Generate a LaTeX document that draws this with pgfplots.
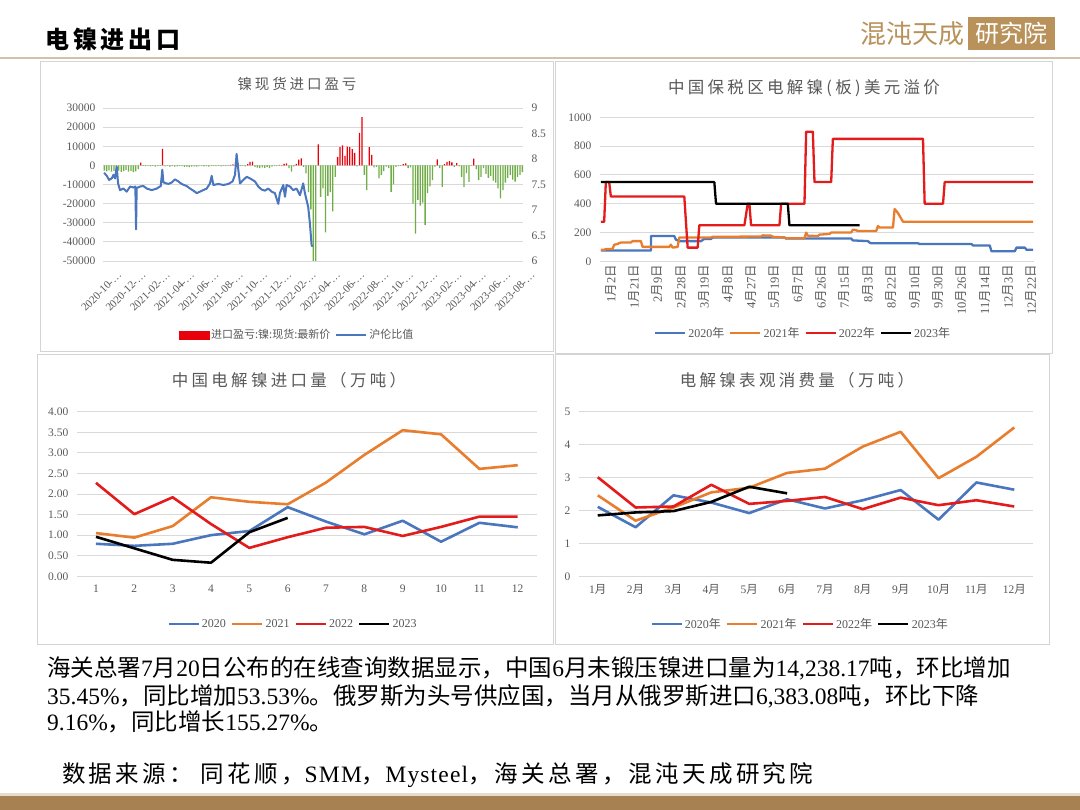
\documentclass[border=0pt]{standalone}
\usepackage{fontspec}
\usepackage{pgfplots}
\usepackage{pgfplotstable}
\pgfplotsset{compat=1.18}
\setmainfont{Liberation Serif}
\newfontfamily\cjk{Noto Sans CJK SC}
\newfontfamily\cjkt[LetterSpace=20]{Noto Sans CJK SC}
\newfontfamily\cjkh[LetterSpace=16]{Noto Sans CJK SC}
\newfontfamily\srccjk[LetterSpace=14]{Noto Sans CJK SC}
\newfontfamily\srclat[LetterSpace=5]{Liberation Serif}

\definecolor{tickgray}{HTML}{595959}
\definecolor{gridgray}{HTML}{D9D9D9}
\definecolor{panelgray}{HTML}{D4D4D4}
\definecolor{cblue}{HTML}{4A76BE}
\definecolor{corange}{HTML}{E97D2E}
\definecolor{cred}{HTML}{E31B1B}
\definecolor{barred}{HTML}{E8000B}
\definecolor{bargreen}{HTML}{70AD47}
\definecolor{tan}{HTML}{B8925A}
\definecolor{brown}{HTML}{A88152}
\definecolor{lighttan}{HTML}{E6DCCB}
\definecolor{headline}{HTML}{CFC3AE}

\newcommand\tickfont{\fontsize{11.5}{13}\selectfont}
\newcommand\legfont{\fontsize{12}{14}\selectfont}
\newcommand\md[2]{#1{\cjk 月}#2{\cjk 日}}

\pgfplotsset{
  excel/.style={
    scale only axis,
    anchor=south west,
    axis line style={draw=none},
    major tick length=0pt,
    ymajorgrids,
    scaled y ticks=false,
    grid style={draw=gridgray, line width=0.8pt},
    tick label style={font=\tickfont, text=tickgray},
    /pgf/number format/assume math mode=true,
    legend style={draw=none, fill=none, font=\legfont, text=tickgray,
      legend columns=-1, anchor=center,
      /tikz/every even column/.append style={column sep=3pt}},
    legend image code/.code={\draw (0pt,0pt) -- (30pt,0pt);},
  }
}

% daily import profit/loss, sampled on a month index (0 = 2020-10)
\pgfplotstableread{
m v
-0.4 -2800
-0.2 -3100
0.0 -2600
0.2 -3300
0.4 -2900
0.6 -3200
0.8 -2700
1.0 -3400
1.2 -3000
1.4 -2500
1.6 -3300
1.8 -2900
2.0 -3500
2.2 -3100
2.4 -2000
2.6 1400
2.8 -300
3.0 -400
3.2 -200
3.4 -500
3.6 -300
3.8 -600
4.0 -400
4.2 -300
4.4 8600
4.6 -500
4.8 -300
5.0 -600
5.2 -400
5.4 -700
5.6 -500
5.8 -300
6.0 -400
6.2 -800
6.4 -600
6.6 -900
6.8 -700
7.0 -500
7.2 -600
7.4 -400
7.6 -300
7.8 -500
8.0 -400
8.2 -600
8.4 -300
8.6 -200
8.8 -400
9.0 -300
9.2 -500
9.4 -200
9.6 -400
9.8 -300
10.0 300
10.2 500
10.4 1500
10.6 1200
10.8 -400
11.0 -300
11.2 -500
11.4 600
11.6 1800
11.8 2000
12.0 -800
12.2 -1200
12.4 -1500
12.6 -1000
12.8 -1300
13.0 -800
13.2 -1500
13.4 -600
13.6 -300
13.8 -200
14.0 300
14.2 -400
14.4 800
14.6 1000
14.8 -1500
15.0 -3300
15.2 -500
15.4 800
15.6 3000
15.8 3700
16.0 -800
16.2 -4200
16.4 -14000
16.6 -23000
16.8 -58000
17.0 -58000
17.2 11000
17.4 -16500
17.6 -12000
17.8 -35000
18.0 -16000
18.2 -14000
18.4 -24000
18.6 -6000
18.8 4500
19.0 9500
19.2 10500
19.4 5000
19.6 9800
19.8 9500
20.0 8500
20.2 6500
20.4 -500
20.6 17000
20.8 25200
21.0 -5000
21.2 -13000
21.4 9500
21.6 5500
21.8 -1000
22.0 -800
22.2 -6800
22.4 -5000
22.6 -3000
22.8 -600
23.0 -1500
23.2 -13800
23.4 -10000
23.6 -800
23.8 -400
24.0 -300
24.2 700
24.4 1000
24.6 -1500
24.8 -1000
25.0 -20000
25.2 -35700
25.4 -18000
25.6 -21000
25.8 -19500
26.0 -31300
26.2 -14500
26.4 -11000
26.6 -7700
26.8 -600
27.0 3100
27.2 -1500
27.4 -11200
27.6 700
27.8 1800
28.0 2200
28.2 1500
28.4 -800
28.6 1200
28.8 -500
29.0 -6000
29.2 -11200
29.4 -4000
29.6 -8600
29.8 -300
30.0 3500
30.2 -2000
30.4 -7700
30.6 -6000
30.8 -1500
31.0 -4500
31.2 -6500
31.4 -5500
31.6 -8000
31.8 -9000
32.0 -12000
32.2 -17300
32.4 -13000
32.6 -9000
32.8 -6500
33.0 -5000
33.2 -7500
33.4 -8500
33.6 -6000
33.8 -5000
34.0 -3500
}\tblprofit

% SHFE/LME price ratio on the same month index
\pgfplotstableread{
m r
-0.41 7.73
-0.19 7.67
0.00 7.59
0.22 7.62
0.36 7.69
0.49 7.62
0.63 7.85
0.74 7.52
0.90 7.39
1.18 7.42
1.45 7.36
1.73 7.46
2.00 7.44
2.16 7.46
2.22 6.62
2.27 7.43
2.55 7.46
2.82 7.47
3.10 7.42
3.51 7.39
3.92 7.42
4.25 7.47
4.38 7.79
4.47 7.54
4.88 7.51
5.15 7.54
5.42 7.60
5.70 7.56
5.97 7.51
6.38 7.47
6.66 7.42
6.93 7.38
7.21 7.33
7.48 7.36
7.75 7.39
8.03 7.42
8.30 7.52
8.44 7.67
8.58 7.49
8.99 7.51
9.40 7.49
9.81 7.51
10.16 7.56
10.36 7.69
10.49 8.10
10.63 7.79
10.77 7.52
11.04 7.59
11.32 7.65
11.59 7.62
12.00 7.56
12.27 7.46
12.55 7.40
12.82 7.38
13.10 7.42
13.37 7.36
13.64 7.33
13.92 7.12
14.05 7.33
14.33 7.49
14.47 7.26
14.60 7.49
14.88 7.46
15.15 7.39
15.42 7.42
15.70 7.29
15.97 7.52
16.11 7.33
16.25 7.19
16.38 7.06
16.52 6.74
16.66 6.31
16.74 6.28
}\tblratio

\begin{document}
\begin{tikzpicture}[x=1pt,y=1pt]
\useasboundingbox (0,0) rectangle (1080,810);
\fill[white] (0,0) rectangle (1080,810);

% page header
\node[anchor=west, inner sep=0pt] at (45,771) {\fontsize{24}{26}\selectfont\cjkh\bfseries 电镍进出口};
\draw[headline, line width=1.5pt] (0,752) -- (1080,752);
\node[anchor=east, inner sep=0pt, text=tan] at (965,776) {\fontsize{26}{28}\selectfont\cjk 混沌天成};
\fill[tan] (968,760) rectangle (1055,793);
\node[text=white, inner sep=0pt] at (1011.5,776.5) {\fontsize{24}{26}\selectfont\cjk 研究院};

% panel frames
\draw[panelgray, line width=1pt] (40,458) rectangle (553,748);
\draw[panelgray, line width=1pt] (555,456) rectangle (1052,748);
\draw[panelgray, line width=1pt] (37,165) rectangle (553,455);
\draw[panelgray, line width=1pt] (555,165) rectangle (1049,455);

% panel titles
\node[text=tickgray] at (297,726) {\fontsize{14.5}{16}\selectfont\cjkt 镍现货进口盈亏};
\node[text=tickgray] at (804,722) {\fontsize{16.5}{18}\selectfont\cjkt 中国保税区电解镍(板)美元溢价};
\node[text=tickgray] at (289,430) {\fontsize{16.5}{18}\selectfont\cjkt 中国电解镍进口量（万吨）};
\node[text=tickgray] at (797,430) {\fontsize{16.5}{18}\selectfont\cjkt 电解镍表观消费量（万吨）};

% ---- import profit/loss (bars) ----
\begin{axis}[excel, at={(103pt,549pt)}, width=420pt, height=153pt,
  xmin=-0.5, xmax=34.05, ymin=-50000, ymax=30000,
  ytick={-50000,-40000,...,30000},
  yticklabels={-50000,-40000,-30000,-20000,-10000,0,10000,20000,30000},
  yticklabel style={xshift=-4pt},
  xtick={0,2,...,34},
  xticklabels={2020-10-…,2020-12-…,2021-02-…,2021-04-…,2021-06-…,2021-08-…,2021-10-…,2021-12-…,2022-02-…,2022-04-…,2022-06-…,2022-08-…,2022-10-…,2022-12-…,2023-02-…,2023-04-…,2023-06-…,2023-08-…},
  xticklabel style={rotate=45, anchor=north east, inner sep=1pt, yshift=-11pt, font=\fontsize{11}{12}\selectfont},
  ybar, bar width=1.3pt]
  \addplot[ybar, bar shift=0pt, fill=barred, draw=none, restrict y to domain=0:100000] table[x=m,y=v]{\tblprofit};
  \addplot[ybar, bar shift=0pt, fill=bargreen, draw=none, restrict y to domain=-100000:0] table[x=m,y=v]{\tblprofit};
\end{axis}
% ---- SHFE/LME ratio (right axis) ----
\begin{axis}[excel, at={(103pt,549pt)}, width=420pt, height=153pt,
  xmin=-0.5, xmax=34.05, ymin=6, ymax=9,
  ymajorgrids=false,
  axis x line=none, axis y line*=right,
  ytick={6,6.5,...,9}, yticklabels={6,6.5,7,7.5,8,8.5,9},
  yticklabel style={xshift=5pt},
  legend style={at={(0.462,-0.484)}, font=\fontsize{11}{13}\selectfont}]
  \addlegendimage{legend image code/.code={\fill[barred] (0pt,-4pt) rectangle (30pt,4pt);}}
  \addlegendentry{\cjk 进口盈亏:镍:现货:最新价}
  \addplot[cblue, line width=2pt, line join=round] table[x=m,y=r]{\tblratio};
  \addlegendentry{\cjk 沪伦比值}
\end{axis}

% ---- bonded-zone premium ----
\begin{axis}[excel, at={(600pt,548.7pt)}, width=434pt, height=144pt,
  xmin=-0.5, xmax=259.5, ymin=0, ymax=1000,
  ytick={0,200,...,1000}, yticklabels={0,200,400,600,800,1000},
  yticklabel style={xshift=-5pt},
  xtick={0,14,...,252},
  xticklabels={\md{1}{2},\md{1}{21},\md{2}{9},\md{2}{28},\md{3}{19},\md{4}{8},\md{4}{27},\md{5}{19},\md{6}{7},\md{6}{26},\md{7}{15},\md{8}{3},\md{8}{22},\md{9}{10},\md{9}{30},\md{10}{26},\md{11}{14},\md{12}{3},\md{12}{22}},
  xticklabel style={rotate=90, anchor=east, yshift=-10pt, font=\fontsize{12.5}{14}\selectfont},
  legend style={at={(0.468,-0.498)}},
  every axis plot/.append style={line width=2.3pt, line join=round}]
  \addplot[cblue] coordinates {(0,75)(30,75)(30,175)(44,175)(45,150)(47,140)(60,140)(62,155)(66,155)(67,165)(110,165)(111,158)(150,158)(151,145)(160,140)(161,130)(162,125)(190,125)(191,120)(222,120)(223,110)(233,110)(234,70)(248,70)(249,95)(254,95)(255,80)(259,80)};
  \addlegendentry{2020{\cjk 年}}
  \addplot[corange] coordinates {(0,80)(2,80)(3,85)(7,85)(8,115)(10,120)(11,127)(12,130)(18,130)(19,140)(24,140)(25,100)(41,100)(42,115)(43,95)(46,100)(47,165)(66,165)(67,170)(96,172)(97,180)(102,178)(103,170)(110,165)(111,160)(122,160)(123,199)(124,178)(130,175)(131,185)(137,190)(138,200)(150,200)(151,220)(153,215)(154,210)(165,210)(166,245)(167,234)(175,234)(176,363)(178,335)(180,295)(181,275)(259,275)};
  \addlegendentry{2021{\cjk 年}}
  \addplot[cred] coordinates {(0,275)(2,275)(3,550)(5,550)(6,450)(50,450)(52,95)(58,95)(59,250)(86,250)(88,400)(89,400)(90,250)(107,250)(108,400)(122,400)(123,900)(127,900)(128,550)(138,550)(139,850)(193,850)(194,400)(205,400)(206,550)(259,550)};
  \addlegendentry{2022{\cjk 年}}
  \addplot[black] coordinates {(0,550)(68,550)(69,400)(112,400)(113,250)(155,250)};
  \addlegendentry{2023{\cjk 年}}
\end{axis}

% ---- electrolytic nickel imports ----
\begin{axis}[excel, at={(76.8pt,233.7pt)}, width=460.1pt, height=164.6pt,
  xmin=0.5, xmax=12.5, ymin=0, ymax=4,
  ytick={0,0.5,...,4}, yticklabels={0.00,0.50,1.00,1.50,2.00,2.50,3.00,3.50,4.00},
  yticklabel style={xshift=-5pt},
  xtick={1,...,12},
  xticklabel style={yshift=-5pt},
  legend style={at={(0.47,-0.29)}},
  every axis plot/.append style={line width=2.6pt, line join=round}]
  \addplot[cblue] coordinates {(1,0.79)(2,0.74)(3,0.79)(4,1.00)(5,1.10)(6,1.68)(7,1.33)(8,1.02)(9,1.35)(10,0.84)(11,1.30)(12,1.19)};
  \addlegendentry{2020}
  \addplot[corange] coordinates {(1,1.05)(2,0.94)(3,1.22)(4,1.92)(5,1.81)(6,1.75)(7,2.28)(8,2.95)(9,3.55)(10,3.45)(11,2.61)(12,2.70)};
  \addlegendentry{2021}
  \addplot[cred] coordinates {(1,2.27)(2,1.51)(3,1.92)(4,1.27)(5,0.69)(6,0.95)(7,1.18)(8,1.20)(9,0.98)(10,1.20)(11,1.45)(12,1.45)};
  \addlegendentry{2022}
  \addplot[black] coordinates {(1,0.96)(2,0.68)(3,0.40)(4,0.33)(5,1.07)(6,1.42)};
  \addlegendentry{2023}
\end{axis}

% ---- apparent consumption ----
\begin{axis}[excel, at={(578.8pt,233.7pt)}, width=454.4pt, height=164.6pt,
  xmin=0.5, xmax=12.5, ymin=0, ymax=5,
  ytick={0,1,...,5}, yticklabels={0,1,2,3,4,5},
  yticklabel style={xshift=-5pt},
  xtick={1,...,12},
  xticklabels={1{\cjk 月},2{\cjk 月},3{\cjk 月},4{\cjk 月},5{\cjk 月},6{\cjk 月},7{\cjk 月},8{\cjk 月},9{\cjk 月},10{\cjk 月},11{\cjk 月},12{\cjk 月}},
  xticklabel style={yshift=-5pt},
  legend style={at={(0.487,-0.29)}},
  every axis plot/.append style={line width=2.6pt, line join=round}]
  \addplot[cblue] coordinates {(1,2.11)(2,1.49)(3,2.46)(4,2.24)(5,1.92)(6,2.34)(7,2.06)(8,2.31)(9,2.62)(10,1.72)(11,2.85)(12,2.63)};
  \addlegendentry{2020{\cjk 年}}
  \addplot[corange] coordinates {(1,2.46)(2,1.69)(3,2.09)(4,2.55)(5,2.69)(6,3.14)(7,3.27)(8,3.94)(9,4.39)(10,2.98)(11,3.63)(12,4.52)};
  \addlegendentry{2021{\cjk 年}}
  \addplot[cred] coordinates {(1,3.01)(2,2.09)(3,2.12)(4,2.78)(5,2.20)(6,2.29)(7,2.41)(8,2.04)(9,2.39)(10,2.16)(11,2.31)(12,2.12)};
  \addlegendentry{2022{\cjk 年}}
  \addplot[black] coordinates {(1,1.85)(2,1.94)(3,1.98)(4,2.26)(5,2.72)(6,2.52)};
  \addlegendentry{2023{\cjk 年}}
\end{axis}

% commentary
\begin{scope}[every node/.style={anchor=west, inner sep=0pt, font=\fontsize{23.5}{26}\selectfont}]
\node at (47,142) {{\cjk 海关总署}7{\cjk 月}20{\cjk 日公布的在线查询数据显示，中国}6{\cjk 月未锻压镍进口量为}14,238.17{\cjk 吨，环比增加}};
\node at (47,114) {35.45\%{\cjk ，同比增加}53.53\%{\cjk 。俄罗斯为头号供应国，当月从俄罗斯进口}6,383.08{\cjk 吨，环比下降}};
\node at (47,88) {9.16\%{\cjk ，同比增长}155.27\%{\cjk 。}};
\end{scope}
\node[anchor=west, inner sep=0pt, font=\fontsize{23.5}{26}\selectfont] at (62,35)
  {{\srccjk 数据来源：}\hspace{8pt}{\srccjk 同花顺，}{\srclat SMM}{\srccjk ，}{\srclat Mysteel}{\srccjk ，海关总署，混沌天成研究院}};

% footer band
\fill[lighttan] (0,14) rectangle (1080,17);
\fill[brown] (0,0) rectangle (1080,14);
\end{tikzpicture}
\end{document}
